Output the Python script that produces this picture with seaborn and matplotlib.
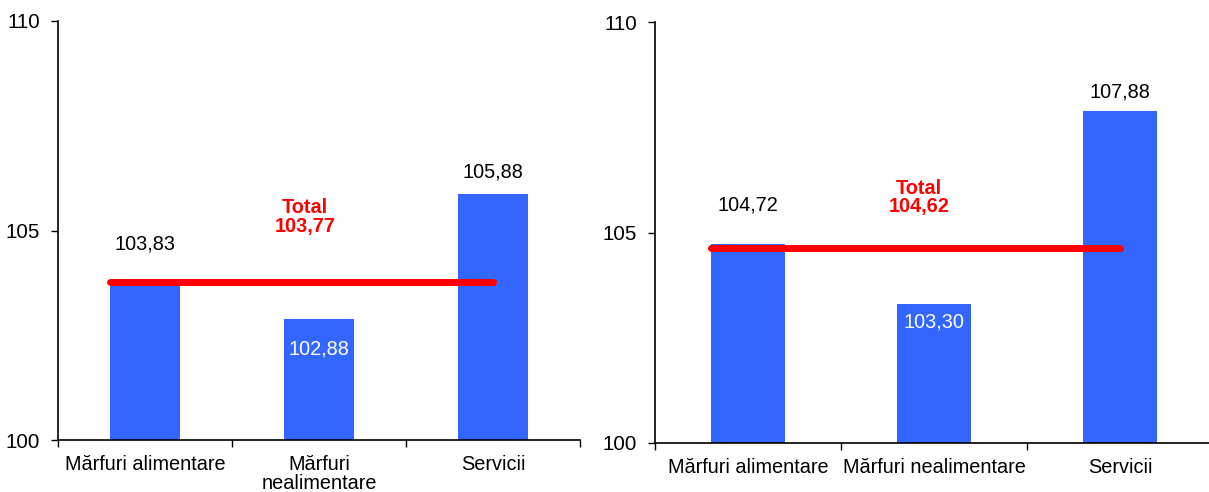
import matplotlib
matplotlib.use("Agg")
import matplotlib.pyplot as plt
import seaborn as sns
import pandas as pd

categories_left = ["Mărfuri alimentare", "Mărfuri\nnealimentare", "Servicii"]
categories_right = ["Mărfuri alimentare", "Mărfuri nealimentare", "Servicii"]
values_left = [103.83, 102.88, 105.88]
values_right = [104.72, 103.30, 107.88]
total_left = 103.77
total_right = 104.62
y_ticks = [100, 105, 110]

sns.set_theme(style="white")
plt.rcParams['font.family'] = ['Liberation Sans', 'DejaVu Sans']
plt.rcParams['text.color'] = 'black'
plt.rcParams['xtick.color'] = 'black'
plt.rcParams['ytick.color'] = 'black'

BAR = "#3366FF"
RED = "#FF0000"
FS = 14.3

fig = plt.figure(figsize=(12.09, 4.92), dpi=100)
ax1 = fig.add_axes([58/1209, 52/492, 522/1209, 419/492])
ax2 = fig.add_axes([655/1209, 49/492, 558/1209, 421/492])

# label offsets in data units (positive = above bar top)
offs_left = [0.85, -0.70, 0.52]
offs_right = [0.93, -0.43, 0.45]
label_colors = ["black", "white", "black"]

def draw(ax, cats, vals, total, offs, total_xy):
    df = pd.DataFrame({"cat": cats, "val": vals})
    sns.barplot(data=df, x="cat", y="val", ax=ax, color=BAR, width=0.4,
                saturation=1, edgecolor="none")
    ax.set_ylim(100, 110)
    ax.set_xlim(-0.5, 2.5)
    ax.set_yticks(y_ticks)
    ax.set_yticklabels([str(t) for t in y_ticks], fontsize=FS + 0.5,
                       color="black")
    ax.set_xticks([-0.5, 0.5, 1.5, 2.5])
    ax.set_xticklabels([])
    ax.set_xticks([0, 1, 2], minor=True)
    ax.set_xticklabels(cats, minor=True, fontsize=FS, va="top",
                       linespacing=1.0, color="black")
    ax.tick_params(axis="x", which="major", direction="out", length=5,
                   width=1, color="black", bottom=True)
    ax.tick_params(axis="x", which="minor", length=0, pad=11)
    ax.tick_params(axis="y", direction="out", length=5, width=1,
                   color="black", left=True, pad=8)
    ax.set_xlabel("")
    ax.set_ylabel("")
    for s in ["top", "right"]:
        ax.spines[s].set_visible(False)
    for s in ["left", "bottom"]:
        ax.spines[s].set_color("black")
        ax.spines[s].set_linewidth(1.2)
    ax.set_facecolor("white")
    for i, (v, o, c) in enumerate(zip(vals, offs, label_colors)):
        ax.text(i, v + o, f"{v:.2f}".replace(".", ","), ha="center",
                va="center", fontsize=FS, color=c)
    ax.plot([-0.2, 2.0], [total, total], color=RED, lw=5,
            solid_capstyle="round", zorder=5)
    ax.text(total_xy[0], total_xy[1],
            "Total\n" + f"{total:.2f}".replace(".", ","),
            ha="center", va="center", fontsize=FS, color=RED,
            fontweight="bold", linespacing=0.95)

draw(ax1, categories_left, values_left, total_left, offs_left, (0.92, 105.32))
draw(ax2, categories_right, values_right, total_right, offs_right, (0.92, 105.84))

fig.savefig("out.png", dpi=100, facecolor="white")
